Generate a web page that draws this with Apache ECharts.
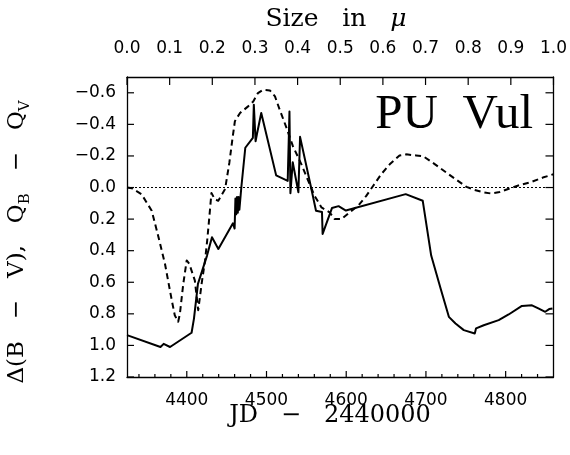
<!DOCTYPE html>
<html><head><meta charset="utf-8">
<script src="https://cdn.jsdelivr.net/npm/echarts@6/dist/echarts.min.js"></script>
<style>html,body{margin:0;padding:0;background:#fff}#c{width:570px;height:455px}</style>
</head><body><div id="c"></div>
<script>
// Δ(B − V) against JD − 2440000 (solid line)
const jdValues = [4325, 4367, 4371, 4379, 4406, 4409, 4414, 4425.4, 4431.6, 4439.6, 4457.9, 4460, 4461, 4462, 4463, 4464, 4465, 4466, 4468.4, 4473.4, 4482.9, 4484.1, 4486.3, 4487.9, 4493.4, 4512.1, 4526.6, 4528.8, 4530, 4532.9, 4540, 4542.1, 4555.9, 4562.1, 4569.6, 4570.4, 4582.1, 4590.4, 4599.6, 4674.6, 4696, 4706.6, 4718.4, 4728.75, 4737.1, 4747.5, 4761.25, 4762.9, 4772.5, 4791.25, 4803.75, 4820.4, 4833, 4841, 4849.6, 4854.6, 4858.75];
const deltaBV = [0.935, 1.01, 0.99, 1.01, 0.92, 0.83, 0.61, 0.431, 0.315, 0.389, 0.227, 0.26, 0.07, 0.17, 0.06, 0.16, 0.06, 0.14, 0.0, -0.252, -0.315, -0.525, -0.293, -0.336, -0.472, -0.077, -0.042, -0.482, 0.036, -0.16, 0.03, -0.321, 0.0, 0.147, 0.155, 0.294, 0.13, 0.118, 0.146, 0.042, 0.084, 0.431, 0.64, 0.819, 0.861, 0.903, 0.924, 0.892, 0.872, 0.84, 0.804, 0.75, 0.746, 0.766, 0.787, 0.77, 0.766];
// Q_B − Q_V against size in μ (dashed line)
const sizeValues = [0.0, 0.011, 0.034, 0.058, 0.073, 0.089, 0.105, 0.112, 0.120, 0.124, 0.132, 0.140, 0.146, 0.159, 0.167, 0.175, 0.183, 0.188, 0.193, 0.198, 0.206, 0.214, 0.230, 0.240, 0.247, 0.253, 0.265, 0.284, 0.296, 0.307, 0.319, 0.335, 0.347, 0.358, 0.374, 0.389, 0.409, 0.425, 0.44, 0.456, 0.475, 0.487, 0.503, 0.522, 0.542, 0.561, 0.577, 0.596, 0.616, 0.639, 0.655, 0.678, 0.694, 0.717, 0.749, 0.776, 0.796, 0.815, 0.838, 0.854, 0.874, 0.897, 0.920, 0.948, 0.975, 1.0];
const qbMinusQv = [0.0, 0.004, 0.042, 0.147, 0.305, 0.483, 0.714, 0.809, 0.85, 0.80, 0.609, 0.462, 0.483, 0.588, 0.777, 0.609, 0.462, 0.336, 0.189, 0.035, 0.074, 0.084, 0.01, -0.157, -0.304, -0.42, -0.472, -0.514, -0.545, -0.598, -0.619, -0.615, -0.577, -0.493, -0.378, -0.262, -0.147, -0.042, 0.053, 0.126, 0.157, 0.2, 0.2, 0.157, 0.116, 0.053, -0.01, -0.084, -0.147, -0.203, -0.21, -0.203, -0.199, -0.157, -0.094, -0.042, -0.004, 0.015, 0.031, 0.038, 0.028, 0.006, -0.015, -0.035, -0.063, -0.084];
// axis ranges and tick values
const yRange = [-0.7, 1.2];     // inverted: -0.7 at top
const jdRange = [4325, 4860];
const sizeRange = [0, 1];
const yTickValues = [-0.6, -0.4, -0.2, 0.0, 0.2, 0.4, 0.6, 0.8, 1.0, 1.2];
const jdMajorTicks = [4400, 4500, 4600, 4700, 4800];
const jdMinorTicks = [4340, 4360, 4380, 4420, 4440, 4460, 4480, 4520, 4540, 4560, 4580, 4620, 4640, 4660, 4680, 4720, 4740, 4760, 4780, 4820, 4840];
const sizeTicks = [0.0, 0.1, 0.2, 0.3, 0.4, 0.5, 0.6, 0.7, 0.8, 0.9, 1.0];

const solidData = jdValues.map((x, i) => [x, deltaBV[i]]);
const dashedData = sizeValues.map((x, i) => [x, qbMinusQv[i]]);

const black = '#000';
const lblFont = {color: black, fontFamily: 'DejaVu Sans', fontSize: 17};
const fmtY = v => (v < 0 ? '\u2212' : '') + Math.abs(v).toFixed(1);
const frameLine = () => ({show: true, onZero: false, lineStyle: {color: black, width: 1.3}});

const chart = echarts.init(document.getElementById('c'));
chart.setOption({
  animation: false,
  backgroundColor: '#fff',
  grid: {left: 127, right: 16, top: 77, bottom: 78},
  xAxis: [
    {type: 'value', position: 'bottom', min: jdRange[0], max: jdRange[1],
     axisLine: frameLine(), axisTick: {show: false},
     axisLabel: Object.assign({customValues: jdMajorTicks, margin: 15, formatter: v => String(v)}, lblFont),
     splitLine: {show: false}},
    {type: 'value', position: 'top', min: sizeRange[0], max: sizeRange[1], interval: 0.1,
     axisLine: frameLine(), axisTick: {show: false},
     axisLabel: Object.assign({margin: 20, formatter: v => v.toFixed(1)}, lblFont),
     splitLine: {show: false}}
  ],
  yAxis: [
    {type: 'value', position: 'left', inverse: true, min: yRange[0], max: yRange[1],
     axisLine: frameLine(), axisTick: {show: false},
     axisLabel: Object.assign({customValues: yTickValues, margin: 11, formatter: fmtY}, lblFont),
     splitLine: {show: false}},
    {type: 'value', position: 'right', inverse: true, min: yRange[0], max: yRange[1],
     axisLine: frameLine(), axisTick: {show: false}, axisLabel: {show: false}, splitLine: {show: false}}
  ],
  series: [
    {type: 'line', name: '\u0394(B \u2212 V)', xAxisIndex: 0, yAxisIndex: 0, data: solidData,
     symbol: 'none', showSymbol: false, smooth: false,
     lineStyle: {color: black, width: 2, join: 'round'},
     markLine: {silent: true, symbol: 'none', label: {show: false}, animation: false,
       lineStyle: {color: black, width: 1, type: [2, 2]}, data: [{yAxis: 0}]}},
    {type: 'line', name: 'Q_B \u2212 Q_V', xAxisIndex: 1, yAxisIndex: 0, data: dashedData,
     symbol: 'none', showSymbol: false, smooth: false,
     lineStyle: {color: black, width: 2, type: [6, 4], join: 'round'}}
  ]
});

// titles
const texts = [
  {type: 'text', x: 336, y: 19, silent: true,
   style: {text: '{a|Size   in   }{b|\u03bc}', align: 'center', verticalAlign: 'middle', fill: black,
     rich: {a: {fontFamily: 'DejaVu Serif', fontSize: 25, fill: black},
            b: {fontFamily: 'DejaVu Serif', fontSize: 25, fontStyle: 'italic', fill: black}}}},
  {type: 'text', x: 330, y: 416, silent: true,
   style: {text: 'JD   \u2212   2440000', align: 'center', verticalAlign: 'middle', fill: black,
     font: '24px "DejaVu Serif"'}},
  {type: 'text', x: 533, y: 115, silent: true,
   style: {text: 'PU  Vul', align: 'right', verticalAlign: 'middle', fill: black,
     font: '49px "Liberation Serif"'}},
  {type: 'text', x: 17, y: 242, rotation: Math.PI / 2, silent: true,
   style: {text: '{m|\u0394(B   \u2212   V),   Q}{s|B}{m|   \u2212   Q}{s|V}', align: 'center', verticalAlign: 'middle', fill: black,
     rich: {m: {fontFamily: 'DejaVu Serif', fontSize: 23, lineHeight: 32, verticalAlign: 'middle', fill: black},
            s: {fontFamily: 'DejaVu Serif', fontSize: 15, lineHeight: 32, verticalAlign: 'bottom', fill: black}}}}
];

// inward tick marks, placed through the chart's own axis scales
const X = (axisIndex, v) => chart.convertToPixel({xAxisIndex: axisIndex}, v);
const Y = v => chart.convertToPixel({yAxisIndex: 0}, v);
const topY = Y(yRange[0]), botY = Y(yRange[1]);
const leftX = X(0, jdRange[0]), rightX = X(0, jdRange[1]);
const seg = (x1, y1, x2, y2) => ({type: 'line', silent: true, z: 100,
  shape: {x1: x1, y1: y1, x2: x2, y2: y2}, style: {stroke: black, lineWidth: 1.2}});
const ticks = [];
sizeTicks.forEach(v => { const x = X(1, v); ticks.push(seg(x, topY, x, topY + 8)); });
jdMajorTicks.forEach(v => { const x = X(0, v); ticks.push(seg(x, botY, x, botY - 6)); });
jdMinorTicks.forEach(v => { const x = X(0, v); ticks.push(seg(x, botY, x, botY - 3)); });
yTickValues.forEach(v => {
  const y = Y(v);
  ticks.push(seg(leftX, y, leftX + 7, y));
  ticks.push(seg(rightX, y, rightX - 8, y));
});
chart.setOption({graphic: texts.concat(ticks)});
</script></body></html>
